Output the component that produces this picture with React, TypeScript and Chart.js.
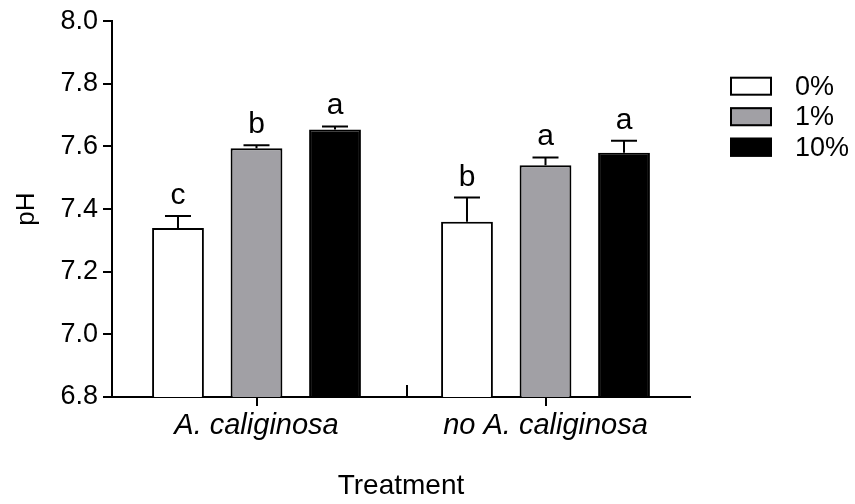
import React, { useEffect, useRef } from "react";
import { Chart, registerables } from "chart.js";

Chart.register(...registerables);

// Soil pH by earthworm treatment and amendment level
const categories = ["A. caliginosa", "no A. caliginosa"];
const seriesLabels = ["0%", "1%", "10%"];
const meanPct0 = [7.34, 7.36];
const meanPct1 = [7.594, 7.54];
const meanPct10 = [7.654, 7.58];
const semPct0 = [0.038, 0.077];
const semPct1 = [0.01, 0.025];
const semPct10 = [0.01, 0.038];
const lettersPct0 = ["c", "b"];
const lettersPct1 = ["b", "a"];
const lettersPct10 = ["a", "a"];
const yTicks = [6.8, 7.0, 7.2, 7.4, 7.6, 7.8, 8.0];

const FONT = "'Liberation Sans', Arial, Helvetica, sans-serif";
const fills = ["#ffffff", "#a1a0a5", "#000000"];

const errors = [semPct0, semPct1, semPct10];
const letters = [lettersPct0, lettersPct1, lettersPct10];

// Error bars with caps plus significance letters above each bar
const errorBarPlugin = {
  id: "errorBars",
  afterDatasetsDraw(chart: any) {
    const ctx = chart.ctx;
    const yScale = chart.scales.y;
    ctx.save();
    ctx.strokeStyle = "#000";
    ctx.lineWidth = 2;
    chart.data.datasets.forEach((ds: any, di: number) => {
      const meta = chart.getDatasetMeta(di);
      meta.data.forEach((bar: any, i: number) => {
        const v = ds.data[i];
        const top = yScale.getPixelForValue(v + errors[di][i]);
        const x = bar.x;
        ctx.beginPath();
        ctx.moveTo(x, bar.y);
        ctx.lineTo(x, top);
        ctx.moveTo(x - 13, top);
        ctx.lineTo(x + 13, top);
        ctx.stroke();
        ctx.fillStyle = "#000";
        ctx.font = `30px ${FONT}`;
        ctx.textAlign = "center";
        ctx.textBaseline = "alphabetic";
        ctx.fillText(letters[di][i], x, top - 12);
      });
    });
    ctx.restore();
  },
};

// Gap tick between the two treatment groups, pointing up from the axis
const gapTickPlugin = {
  id: "gapTick",
  afterDraw(chart: any) {
    const xs = chart.scales.x;
    const ctx = chart.ctx;
    const mid = (xs.getPixelForValue(0) + xs.getPixelForValue(1)) / 2 + 6;
    const base = chart.chartArea.bottom;
    ctx.save();
    ctx.strokeStyle = "#000";
    ctx.lineWidth = 2;
    ctx.beginPath();
    ctx.moveTo(mid, base);
    ctx.lineTo(mid, base - 12);
    ctx.stroke();
    ctx.restore();
  },
};

// Legend block to the right of the plot
const legendPlugin = {
  id: "sideLegend",
  afterDraw(chart: any) {
    const ctx = chart.ctx;
    const area = chart.chartArea;
    const left = area.right + 40;
    const firstY = area.top + 65;
    const step = 30.5;
    ctx.save();
    chart.data.datasets.forEach((ds: any, i: number) => {
      const cy = firstY + i * step;
      ctx.fillStyle = ds.backgroundColor;
      ctx.fillRect(left, cy - 9.5, 42, 19);
      ctx.strokeStyle = "#000";
      ctx.lineWidth = 2;
      ctx.strokeRect(left + 1, cy - 8.5, 40, 17);
      ctx.fillStyle = "#000";
      ctx.font = `27px ${FONT}`;
      ctx.textAlign = "left";
      ctx.textBaseline = "middle";
      ctx.fillText(ds.label, left + 65, cy + 1);
    });
    ctx.restore();
  },
};

export default function App() {
  const canvasRef = useRef<HTMLCanvasElement | null>(null);

  useEffect(() => {
    if (!canvasRef.current) return;
    const chart = new Chart(canvasRef.current, {
      type: "bar",
      data: {
        labels: categories,
        datasets: [meanPct0, meanPct1, meanPct10].map((d, i) => ({
          label: seriesLabels[i],
          data: d,
          backgroundColor: fills[i],
          borderColor: "#000",
          borderWidth: 2,
          categoryPercentage: 0.815,
          barPercentage: 0.66,
        })),
      },
      options: {
        responsive: false,
        animation: false,
        devicePixelRatio: 1,
        layout: { padding: { top: 19, right: 165, left: 0, bottom: 0 } },
        plugins: {
          legend: { display: false },
          tooltip: { enabled: false },
        },
        scales: {
          x: {
            grid: {
              display: true,
              drawOnChartArea: false,
              drawTicks: true,
              tickLength: 9,
              offset: false,
              color: "#000",
              lineWidth: 2,
            },
            border: { display: true, color: "#000", width: 2 },
            ticks: {
              color: "#000",
              padding: 3,
              font: { family: FONT, size: 29, style: "italic" },
            },
            title: {
              display: true,
              text: "Treatment",
              color: "#000",
              font: { family: FONT, size: 28 },
              padding: { top: 0, bottom: 1 },
            },
            afterFit(scale: any) {
              scale.height = 107;
            },
          },
          y: {
            min: 6.8,
            max: 8.0,
            afterBuildTicks(scale: any) {
              scale.ticks = yTicks.map((v) => ({ value: v }));
            },
            grid: {
              display: true,
              drawOnChartArea: false,
              drawTicks: true,
              tickLength: 9,
              color: "#000",
              lineWidth: 2,
            },
            border: { display: true, color: "#000", width: 2 },
            ticks: {
              color: "#000",
              padding: 5,
              font: { family: FONT, size: 27 },
              callback: (v: any) => Number(v).toFixed(1),
            },
            title: {
              display: true,
              text: "pH",
              color: "#000",
              font: { family: FONT, size: 26 },
              padding: { top: 11, bottom: 0 },
            },
            afterFit(scale: any) {
              scale.width = 112;
            },
          },
        },
      },
      plugins: [errorBarPlugin, gapTickPlugin, legendPlugin],
    });
    return () => chart.destroy();
  }, []);

  return (
    <div style={{ position: "absolute", left: 0, top: 0, width: 855, height: 504, background: "#fff" }}>
      <canvas ref={canvasRef} width={855} height={504} />
    </div>
  );
}
